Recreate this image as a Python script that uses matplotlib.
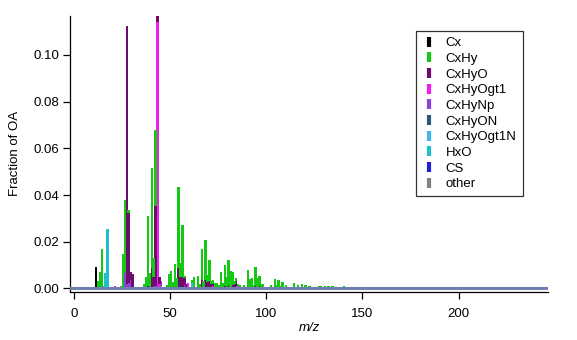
import numpy as np
import matplotlib
matplotlib.use("Agg")
import matplotlib.pyplot as plt
from matplotlib.lines import Line2D
from matplotlib.ticker import FormatStrFormatter

plt.rcParams['font.family'] = ['Liberation Sans', 'DejaVu Sans']

# family stick spectra (m/z, fraction of OA)
cx_mz = [12, 24, 36]
cx_val = [0.0093, 0.0006, 0.0004]

cxhy_mz = [13, 14, 15, 25, 26, 27, 29, 37, 38, 39, 40, 41, 42, 43, 49, 50, 51, 52, 53, 54,
           55, 56, 57, 58, 62, 63, 65, 66, 67, 68, 69, 70, 71, 72, 73, 74, 75, 76, 77, 78,
           79, 80, 81, 82, 83, 84, 85, 86, 87, 89, 91, 92, 93, 94, 95, 96, 97, 98, 99, 103,
           105, 106, 107, 108, 109, 110, 111, 115, 117, 119, 121, 123, 128, 129, 131, 133, 135, 137, 141, 143,
           145, 147, 149, 152, 155, 157, 159, 161, 163, 165, 167, 169, 175, 179, 183, 189, 191]
cxhy_val = [0.0030, 0.0070, 0.0167, 0.0010, 0.0149, 0.0313, 0.0012, 0.0020, 0.0050, 0.0300,
            0.0060, 0.0430, 0.0080, 0.0328, 0.0015, 0.0060, 0.0075, 0.0028, 0.0100, 0.0045,
            0.0349, 0.0060, 0.0220, 0.0010, 0.0012, 0.0050, 0.0055, 0.0020, 0.0135, 0.0030,
            0.0170, 0.0030, 0.0090, 0.0010, 0.0015, 0.0015, 0.0025, 0.0015, 0.0070, 0.0025,
            0.0090, 0.0050, 0.0105, 0.0075, 0.0055, 0.0015, 0.0015, 0.0008, 0.0005, 0.0015,
            0.0080, 0.0040, 0.0045, 0.0015, 0.0080, 0.0045, 0.0045, 0.0012, 0.0010, 0.0015,
            0.0042, 0.0015, 0.0038, 0.0012, 0.0020, 0.0008, 0.0010, 0.0022, 0.0016, 0.0017,
            0.0015, 0.0010, 0.0012, 0.0012, 0.0010, 0.0009, 0.0010, 0.0008, 0.0009, 0.0006,
            0.0007, 0.0005, 0.0006, 0.0004, 0.0007, 0.0005, 0.0007, 0.0004, 0.0005, 0.0004,
            0.0005, 0.0004, 0.0003, 0.0004, 0.0003, 0.0004, 0.0004]

cxhyo_mz = [28, 29, 30, 31, 39, 41, 42, 43, 44, 45, 53, 55, 56, 57, 58, 59, 67, 69, 70, 71,
            72, 73, 79, 81, 83, 84, 85, 95, 97, 98, 99, 109, 111]
cxhyo_val = [0.1104, 0.0300, 0.0035, 0.0060, 0.0010, 0.0080, 0.0040, 0.0340, 0.0050, 0.0030,
             0.0006, 0.0086, 0.0040, 0.0050, 0.0030, 0.0010, 0.0035, 0.0036, 0.0020, 0.0030,
             0.0015, 0.0010, 0.0010, 0.0015, 0.0015, 0.0010, 0.0020, 0.0010, 0.0010, 0.0008,
             0.0008, 0.0006, 0.0006]

cxhyogt1_mz = [22, 44, 45, 46, 58, 59, 60, 61, 73, 74, 84, 85, 86, 87, 100, 101, 113]
cxhyogt1_val = [0.0010, 0.1126, 0.0020, 0.0010, 0.0003, 0.0008, 0.0022, 0.0006, 0.0010, 0.0008,
                0.0008, 0.0010, 0.0012, 0.0008, 0.0006, 0.0006, 0.0004]

cxhynp_mz = [27, 28, 29, 30, 41, 42, 43, 44, 56, 58, 70, 72]
cxhynp_val = [0.0065, 0.0020, 0.0023, 0.0030, 0.0008, 0.0010, 0.0012, 0.0012, 0.0008, 0.0010,
              0.0008, 0.0006]

cxhyon_mz = [30, 44, 46]
cxhyon_val = [0.0005, 0.0004, 0.0008]

cxhyogt1n_mz = [46, 62]
cxhyogt1n_val = [0.0012, 0.0025]

hxo_mz = [16, 17, 18, 19, 20]
hxo_val = [0.0012, 0.0065, 0.0253, 0.0004, 0.0008]

cs_mz = [48, 64]
cs_val = [0.0004, 0.0004]

other_mz = [32, 40]
other_val = [0.0004, 0.0005]

# stacking order, bottom first
families = [
    ('other', other_mz, other_val, '#808080'),
    ('CS', cs_mz, cs_val, '#2020d8'),
    ('HxO', hxo_mz, hxo_val, '#1cc0cc'),
    ('CxHyOgt1N', cxhyogt1n_mz, cxhyogt1n_val, '#44b4ec'),
    ('CxHyON', cxhyon_mz, cxhyon_val, '#255a70'),
    ('CxHyNp', cxhynp_mz, cxhynp_val, '#9040d8'),
    ('CxHyOgt1', cxhyogt1_mz, cxhyogt1_val, '#f01cf0'),
    ('CxHyO', cxhyo_mz, cxhyo_val, '#6e0c6e'),
    ('CxHy', cxhy_mz, cxhy_val, '#14c814'),
    ('Cx', cx_mz, cx_val, '#000000'),
]
legend_order = ['Cx', 'CxHy', 'CxHyO', 'CxHyOgt1', 'CxHyNp', 'CxHyON',
                'CxHyOgt1N', 'HxO', 'CS', 'other']

mz = np.arange(1, 251)

fig = plt.figure(figsize=(5.77, 3.4), dpi=100)
ax = fig.add_axes([70 / 577, 1 - 291.5 / 340, 478 / 577, 275.5 / 340])

bottom = np.zeros(len(mz))
colors = {}
for name, fmz, fval, col in families:
    y = np.zeros(len(mz))
    y[np.array(fmz) - 1] = fval
    ax.bar(mz, y, width=-1.2, align='edge', bottom=bottom, color=col, linewidth=0)
    bottom += y
    colors[name] = col

ax.axhline(0, color='#6f7fae', linewidth=2.2, zorder=3)

ax.set_xlim(-2.1, 246.5)
ax.set_ylim(-0.0013, 0.1167)
ax.set_xticks([0, 50, 100, 150, 200])
ax.set_yticks([0, 0.02, 0.04, 0.06, 0.08, 0.10])
ax.yaxis.set_major_formatter(FormatStrFormatter('%.2f'))
ax.tick_params(length=5, width=0.9, labelsize=9.5, color='black')
ax.tick_params(axis='x', pad=7)
ax.tick_params(axis='y', pad=3)
for s in ['top', 'right']:
    ax.spines[s].set_visible(False)
for s in ['left', 'bottom']:
    ax.spines[s].set_linewidth(0.9)

ax.set_xlabel('m/z', fontsize=9.5, style='italic', labelpad=1)
ax.set_ylabel('Fraction of OA', fontsize=9.5, labelpad=9)

handles = [Line2D([], [], marker='|', linestyle='none', markersize=7,
                  markeredgewidth=3, color=colors[n]) for n in legend_order]
leg = ax.legend(handles, legend_order, loc='upper left', bbox_to_anchor=(0.724, 0.9455),
                borderaxespad=0, fontsize=9.5, frameon=True, fancybox=False,
                handlelength=1.0, handletextpad=0.8, labelspacing=0.26,
                borderpad=0.45)
leg.get_frame().set_edgecolor('black')
leg.get_frame().set_linewidth(0.9)

fig.savefig('out.png', dpi=100)
